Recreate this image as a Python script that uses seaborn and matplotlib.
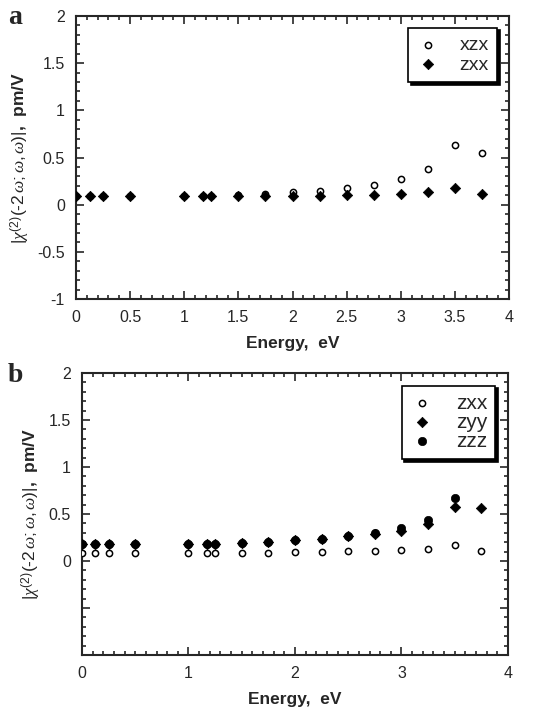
import matplotlib
matplotlib.use("Agg")
import matplotlib.pyplot as plt
import seaborn as sns
from matplotlib.ticker import MultipleLocator

# photon energies, eV
energy = [0, 0.125, 0.25, 0.5, 1.0, 1.17, 1.25, 1.5, 1.75, 2.0, 2.25, 2.5, 2.75, 3.0, 3.25, 3.5, 3.75]

# panel a
a_xzx = [0.09, 0.09, 0.09, 0.09, 0.09, 0.09, 0.09, 0.10, 0.11, 0.13, 0.15, 0.175, 0.21, 0.275, 0.38, 0.63, 0.545]
a_zxx = [0.09, 0.09, 0.09, 0.09, 0.09, 0.09, 0.09, 0.09, 0.09, 0.09, 0.095, 0.10, 0.107, 0.114, 0.13, 0.175, 0.11]

# panel b
b_zxx = [0.089, 0.089, 0.089, 0.089, 0.089, 0.089, 0.089, 0.089, 0.09, 0.092, 0.10, 0.103, 0.11, 0.117, 0.13, 0.17, 0.11]
b_zyy = [0.177, 0.177, 0.177, 0.177, 0.18, 0.18, 0.18, 0.195, 0.205, 0.22, 0.238, 0.262, 0.284, 0.32, 0.39, 0.578, 0.56]
b_zzz = [0.177, 0.177, 0.177, 0.177, 0.18, 0.18, 0.18, 0.195, 0.205, 0.22, 0.238, 0.262, 0.30, 0.35, 0.44, 0.667]

a_xticks = [0, 0.5, 1, 1.5, 2, 2.5, 3, 3.5, 4]
a_xlabels = ['0', '0.5', '1', '1.5', '2', '2.5', '3', '3.5', '4']
b_xticks = [0, 1, 2, 3, 4]
b_xlabels = ['0', '1', '2', '3', '4']
yticks = [-1, -0.5, 0, 0.5, 1, 1.5, 2]
a_ylabels = ['-1', '-0.5', '0', '0.5', '1', '1.5', '2']
b_ylabels = ['', '', '0', '0.5', '1', '1.5', '2']

sns.set_style("ticks")
matplotlib.rcParams['font.family'] = ['Liberation Sans', 'DejaVu Sans']
matplotlib.rcParams['mathtext.fontset'] = 'custom'
matplotlib.rcParams['mathtext.rm'] = 'Liberation Sans'
matplotlib.rcParams['mathtext.it'] = 'Liberation Serif:italic'

YLABEL = r'$|\chi^{(2)}(\mathrm{\text{-}2}\,\omega;\omega,\omega)|$,  pm/V'

fig = plt.figure(figsize=(5.34, 7.13), dpi=100)
ax_a = fig.add_axes([76/534, 1 - 299/713, 433/534, 283/713])
ax_b = fig.add_axes([82/534, 1 - 655/713, 426/534, 282/713])


def open_pts(ax, x, y, label):
    sns.scatterplot(x=x, y=y, ax=ax, marker='o', s=20, facecolor='white',
                    edgecolor='black', linewidth=1.1, label=label, zorder=3)


def filled_pts(ax, x, y, label, marker, size):
    sns.scatterplot(x=x, y=y, ax=ax, marker=marker, s=size, color='black',
                    edgecolor='black', linewidth=0.5, label=label, zorder=4)


open_pts(ax_a, energy, a_xzx, 'xzx')
filled_pts(ax_a, energy, a_zxx, 'zxx', 'D', 28)

open_pts(ax_b, energy, b_zxx, 'zxx')
filled_pts(ax_b, energy, b_zyy, 'zyy', 'D', 28)
filled_pts(ax_b, energy[:len(b_zzz)], b_zzz, 'zzz', 'o', 36)

for ax in (ax_a, ax_b):
    ax.set_xlim(0, 4)
    ax.set_ylim(-1, 2)
    ax.yaxis.set_minor_locator(MultipleLocator(0.1))
    ax.xaxis.set_minor_locator(MultipleLocator(0.1))
    ax.tick_params(which='both', direction='in', top=True, right=True, width=1.2)
    ax.tick_params(which='major', length=6, labelsize=11.5, pad=8)
    ax.tick_params(which='minor', length=3)
    for sp in ax.spines.values():
        sp.set_linewidth(1.5)
    ax.set_xlabel('Energy,  eV', fontsize=12.5, fontweight='bold', labelpad=8)
    ax.set_ylabel(YLABEL, fontsize=12.5, fontweight='bold')

leg_a = ax_a.legend(loc='upper right', fontsize=14, frameon=True, fancybox=False,
                    shadow={'color': 'black', 'alpha': 1}, edgecolor='black',
                    handletextpad=1.0, borderpad=0.45, labelspacing=0.1,
                    handlelength=1.2, borderaxespad=0.6)
leg_a.get_frame().set_linewidth(1.2)
leg_b = ax_b.legend(loc='upper right', fontsize=15, frameon=True, fancybox=False,
                    shadow={'color': 'black', 'alpha': 1}, edgecolor='black',
                    handletextpad=1.0, borderpad=0.4, labelspacing=0.0,
                    handlelength=1.2, borderaxespad=0.6)
leg_b.get_frame().set_linewidth(1.2)

ax_a.set_xticks(a_xticks, a_xlabels)
ax_a.set_yticks(yticks, a_ylabels)
ax_b.set_xticks(b_xticks, b_xlabels)
ax_b.set_yticks(yticks, b_ylabels)

fig.text(8/534, 1 - 18/713, 'a', fontsize=20, fontweight='bold', family='Liberation Serif', va='center')
fig.text(8/534, 1 - 376/713, 'b', fontsize=20, fontweight='bold', family='Liberation Serif', va='center')

fig.savefig('out.png', dpi=100)
